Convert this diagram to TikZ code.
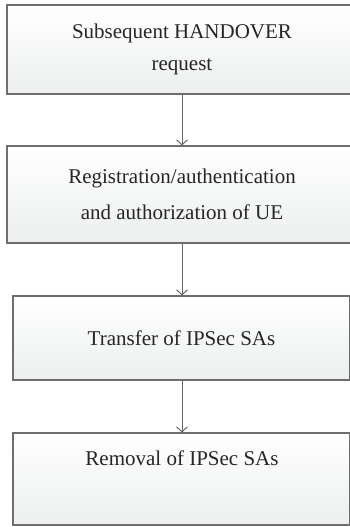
\documentclass[tikz,border=0pt]{standalone}
\usepackage{fontspec}
\setmainfont{Liberation Serif}
\usetikzlibrary{arrows.meta}
\definecolor{edgegray}{HTML}{6E6E6E}
\definecolor{linkgray}{HTML}{666666}
\definecolor{fillbottom}{HTML}{EDEFEF}
\tikzset{
  stepbox/.style={draw=edgegray, line width=1.1pt, top color=white, bottom color=fillbottom,
    inner sep=0pt, align=center, text=black!85},
  steptext/.style={align=center, text=black!85, inner sep=0pt},
  flow/.style={draw=linkgray, line width=1pt, -{Straight Barb[length=5pt,width=11pt,line width=1pt]}}
}
\begin{document}
\begin{tikzpicture}[x=1pt,y=1pt]
\useasboundingbox (0,0) rectangle (350,-527);
\clip (0,0) rectangle (350,-527);
% process boxes
\node[stepbox, minimum width=350, minimum height=89,
      font=\fontsize{21}{32}\selectfont] (s1) at (182,-49.5)
  {Subsequent HANDOVER\\request};
\node[stepbox, minimum width=350, minimum height=97,
      font=\fontsize{21}{36}\selectfont] (s2) at (182,-194.5)
  {Registration/authentication\\and authorization of UE};
\node[stepbox, minimum width=337, minimum height=84,
      font=\fontsize{21}{32}\selectfont] (s3) at (181.5,-338)
  {Transfer of IPSec SAs};
\node[stepbox, minimum width=337, minimum height=92] (s4) at (181.5,-479) {};
\node[steptext, font=\fontsize{21}{32}\selectfont, anchor=base] (t4) at (182,-465)
  {Removal of IPSec SAs};
% connectors
\draw[flow] (s1.south -| 182,0) -- (s2.north -| 182,0);
\draw[flow] (s2.south -| 182,0) -- (s3.north -| 182,0);
\draw[flow] (s3.south -| 182,0) -- (s4.north -| 182,0);
\end{tikzpicture}
\end{document}
